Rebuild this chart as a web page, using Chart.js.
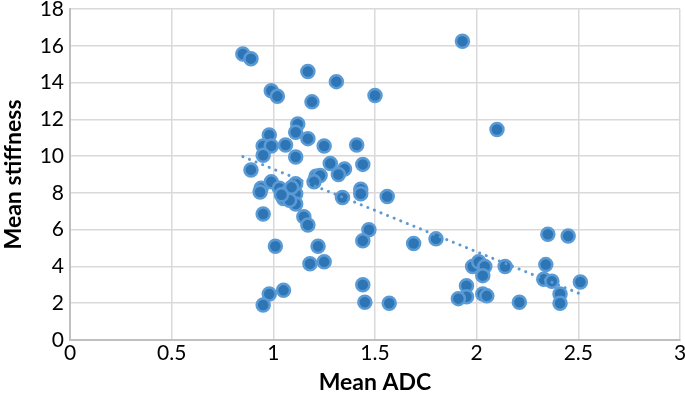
<!DOCTYPE html>
<html>
<head>
<meta charset="utf-8">
<script src="https://cdn.jsdelivr.net/npm/chart.js@4.4.1/dist/chart.umd.min.js"></script>
<style>
  html, body { margin: 0; padding: 0; background: #fff; }
  #wrap { width: 685px; height: 396px; }
</style>
</head>
<body>
<div id="wrap"><canvas id="chart"></canvas></div>
<script>
// values
const adcValues = [
  0.85, 0.89, 1.17, 1.31, 0.99, 1.02, 1.19, 1.50, 1.93, 2.10,
  1.12, 1.11, 0.98, 1.17, 1.25, 1.41, 0.95, 0.99, 1.06, 0.95,
  1.11, 1.28, 1.35, 1.44, 0.89, 1.21, 1.23, 1.32, 1.20, 0.94,
  0.935, 0.99, 1.03, 1.07, 1.05, 1.11, 1.11, 1.11, 1.34, 1.43,
  1.43, 1.56, 0.95, 1.15, 1.17, 1.47, 1.44, 1.69, 1.01, 1.22,
  1.18, 1.25, 1.44, 1.05, 0.98, 0.95, 1.45, 1.57, 1.80, 2.35,
  2.45, 1.98, 2.01, 2.04, 2.03, 2.14, 2.34, 2.33, 2.37, 2.51,
  2.41, 2.41, 1.95, 1.95, 1.91, 2.03, 2.05, 2.21, 1.08, 1.09,
  1.04
];
const stiffnessValues = [
  15.55, 15.3, 14.6, 14.05, 13.55, 13.25, 12.95, 13.3, 16.25, 11.45,
  11.75, 11.3, 11.15, 10.95, 10.55, 10.6, 10.55, 10.55, 10.6, 10.05,
  9.95, 9.6, 9.3, 9.55, 9.25, 8.9, 8.95, 9.0, 8.6, 8.25,
  8.05, 8.6, 8.25, 8.05, 7.7, 7.95, 8.5, 7.4, 7.75, 8.2,
  7.95, 7.8, 6.85, 6.7, 6.25, 6.0, 5.4, 5.25, 5.1, 5.1,
  4.15, 4.25, 3.0, 2.7, 2.5, 1.9, 2.05, 2.0, 5.5, 5.75,
  5.65, 4.0, 4.25, 4.0, 3.5, 4.0, 4.1, 3.3, 3.2, 3.15,
  2.5, 2.0, 2.95, 2.35, 2.25, 2.5, 2.4, 2.05, 7.6, 8.3,
  7.9
];
// dotted trend line ends
const trendX = [0.85, 2.5];
const trendY = [9.97, 2.55];

const xTicks = [0, 0.5, 1, 1.5, 2, 2.5, 3];
const yTicks = [0, 2, 4, 6, 8, 10, 12, 14, 16, 18];

const points = adcValues.map((x, i) => ({ x: x, y: stiffnessValues[i] }));
const trend = trendX.map((x, i) => ({ x: x, y: trendY[i] }));

const tickFont = { family: 'Lato, "Open Sans", sans-serif', size: 21 };
const titleFont = { family: 'Lato, "Open Sans", sans-serif', size: 23, weight: 'bold' };

new Chart(document.getElementById('chart'), {
  type: 'scatter',
  data: {
    datasets: [
      {
        label: 'Mean stiffness',
        data: points,
        backgroundColor: '#2e75b6',
        borderColor: '#5b9bd5',
        borderWidth: 2.5,
        pointRadius: 6.5,
        order: 2
      },
      {
        label: 'Trend',
        type: 'line',
        data: trend,
        showLine: true,
        borderColor: '#5b9bd5',
        borderWidth: 3,
        borderDash: [0.1, 7],
        borderCapStyle: 'round',
        pointRadius: 0,
        fill: false,
        order: 1
      }
    ]
  },
  options: {
    responsive: true,
    maintainAspectRatio: false,
    animation: false,
    layout: { autoPadding: false, padding: { top: 9, right: 5, left: 0, bottom: 0 } },
    plugins: { legend: { display: false }, tooltip: { enabled: false } },
    scales: {
      x: {
        type: 'linear',
        min: 0, max: 3,
        afterBuildTicks: s => { s.ticks = xTicks.map(v => ({ value: v })); },
        afterFit: s => { s.height = 56; s.paddingLeft = 0; s.paddingRight = 0; },
        ticks: { color: '#000', font: tickFont, padding: 1, callback: v => String(v) },
        grid: { color: '#d9d9d9', lineWidth: 1.5, tickLength: 0 },
        border: { color: '#bfbfbf', width: 2 },
        title: { display: true, text: 'Mean ADC', color: '#000', font: titleFont, padding: 0 }
      },
      y: {
        min: 0, max: 18,
        afterBuildTicks: s => { s.ticks = yTicks.map(v => ({ value: v })); },
        afterFit: s => { s.width = 70; s.paddingTop = 0; s.paddingBottom = 0; },
        ticks: { color: '#000', font: tickFont, padding: 6, callback: v => String(v) },
        grid: { color: '#d9d9d9', lineWidth: 1.5, tickLength: 0 },
        border: { color: '#bfbfbf', width: 2 },
        title: { display: true, text: 'Mean stiffness', color: '#000', font: titleFont, padding: 0 }
      }
    }
  }
});
</script>
</body>
</html>
